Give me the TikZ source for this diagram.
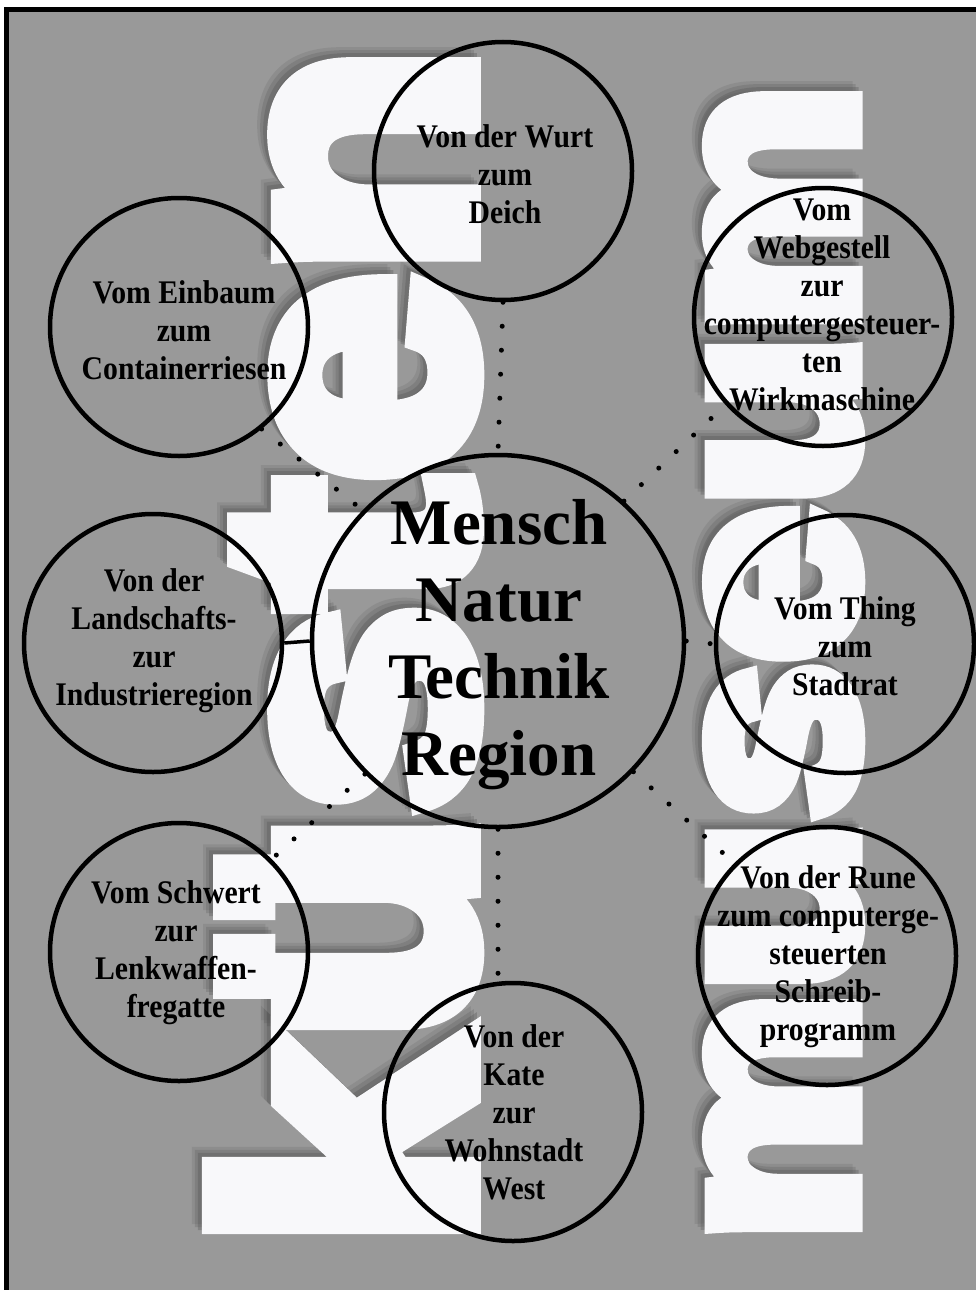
\documentclass[tikz,border=0pt]{standalone}
\usepackage{fontspec}
\usepackage{graphicx}
\newfontfamily\lblfont{Liberation Serif}[FakeStretch=0.9]
\newfontfamily\bigfont{Liberation Serif}
\newfontfamily\bgfont{Liberation Sans Bold}[FakeBold=7]
\definecolor{bg}{RGB}{153,153,153}
\definecolor{lett}{RGB}{248,248,250}
\definecolor{shad}{RGB}{80,80,80}
\newcommand\bgwordA{\resizebox{1196pt}{254pt}{\bgfont küsten}}
\newcommand\bgwordB{\resizebox{1155pt}{142pt}{\bgfont museum}}
\tikzset{
  bubble/.style={circle, draw=black, line width=4.5pt, minimum size=258pt, inner sep=0pt},
  lbl/.style={align=center, inner sep=0pt, font=\lblfont\bfseries\fontsize{33pt}{38pt}\selectfont},
  bigl/.style={align=center, inner sep=0pt, font=\bigfont\bfseries\fontsize{65pt}{77pt}\selectfont},
  dotline/.style={line width=5pt, line cap=round, dash pattern=on 0pt off 24pt},
  bgword/.style={rotate=90, anchor=south west, inner sep=0pt, outer sep=0pt},
}
\begin{document}
\begin{tikzpicture}[x=1pt,y=-1pt]
\useasboundingbox (0,0) rectangle (976,1290);
\fill[white] (0,0) rectangle (976,1290);
\fill[bg] (6.5,9.5) rectangle (985,1300);
\draw[line width=5pt] (6.5,1300) -- (6.5,9.5) -- (985,9.5);

% background lettering with soft shadow
\foreach \d/\o in {10/0.16,7/0.22,4/0.3} {
  \node[bgword, text=shad, opacity=\o] (shA\d) at ({472-\d},{1247-\d}) {\bgwordA};
  \node[bgword, text=shad, opacity=\o] (shB\d) at ({856-\d},{1242-\d}) {\bgwordB};
}
\node[bgword, text=lett] (kuesten) at (472,1247) {\bgwordA};
\node[bgword, text=lett] (museumw) at (856,1242) {\bgwordB};

% circles
\node[bubble] (wurt) at (503,171) {};
\node[bubble] (ein) at (179,327) {};
\node[bubble] (web) at (823,317) {};
\node[bubble, minimum size=372pt] (central) at (498,641) {};
\node[bubble] (land) at (153,643) {};
\node[bubble] (thing) at (845,644) {};
\node[bubble] (schwert) at (179,952) {};
\node[bubble] (kate) at (513,1112) {};
\node[bubble] (rune) at (827,956) {};

% connectors
\draw[dotline] (wurt.south) -- (central.north);
\draw[dotline] (ein.-51) -- (central.136);
\draw[dotline] (central.48) -- (web.222);
\draw[dotline] (central.east) -- (thing.west);
\draw[dotline] (central.-135) -- (schwert.45);
\draw[dotline] (central.south) -- (central.south |- kate.north);
\draw[dotline] (central.-44) -- (rune.135);
\draw[line width=3.5pt] (land.east) -- (central.west);

% texts
\node[lbl] (wurtT) at (505,174) {Von der Wurt\\zum\\Deich};
\node[lbl] (einT) at (184,330) {Vom Einbaum\\zum\\Containerriesen};
\node[lbl] (webT) at (822,305) {Vom\\Webgestell\\zur\\computergesteuer-\\ten\\Wirkmaschine};
\node[bigl] (centralT) at (499,645) {Mensch\\Natur\\Technik\\Region};
\node[lbl] (landT) at (154,641) {Von der\\Landschafts-\\zur\\Industrieregion};
\node[lbl] (thingT) at (845,646) {Vom Thing\\zum\\Stadtrat};
\node[lbl] (schwertT) at (176,953) {Vom Schwert\\zur\\Lenkwaffen-\\fregatte};
\node[lbl] (kateT) at (514,1112) {Von der\\Kate\\zur\\Wohnstadt\\West};
\node[lbl] (runeT) at (828,957) {Von der Rune\\zum computerge-\\steuerten\\Schreib-\\programm};
\end{tikzpicture}
\end{document}
